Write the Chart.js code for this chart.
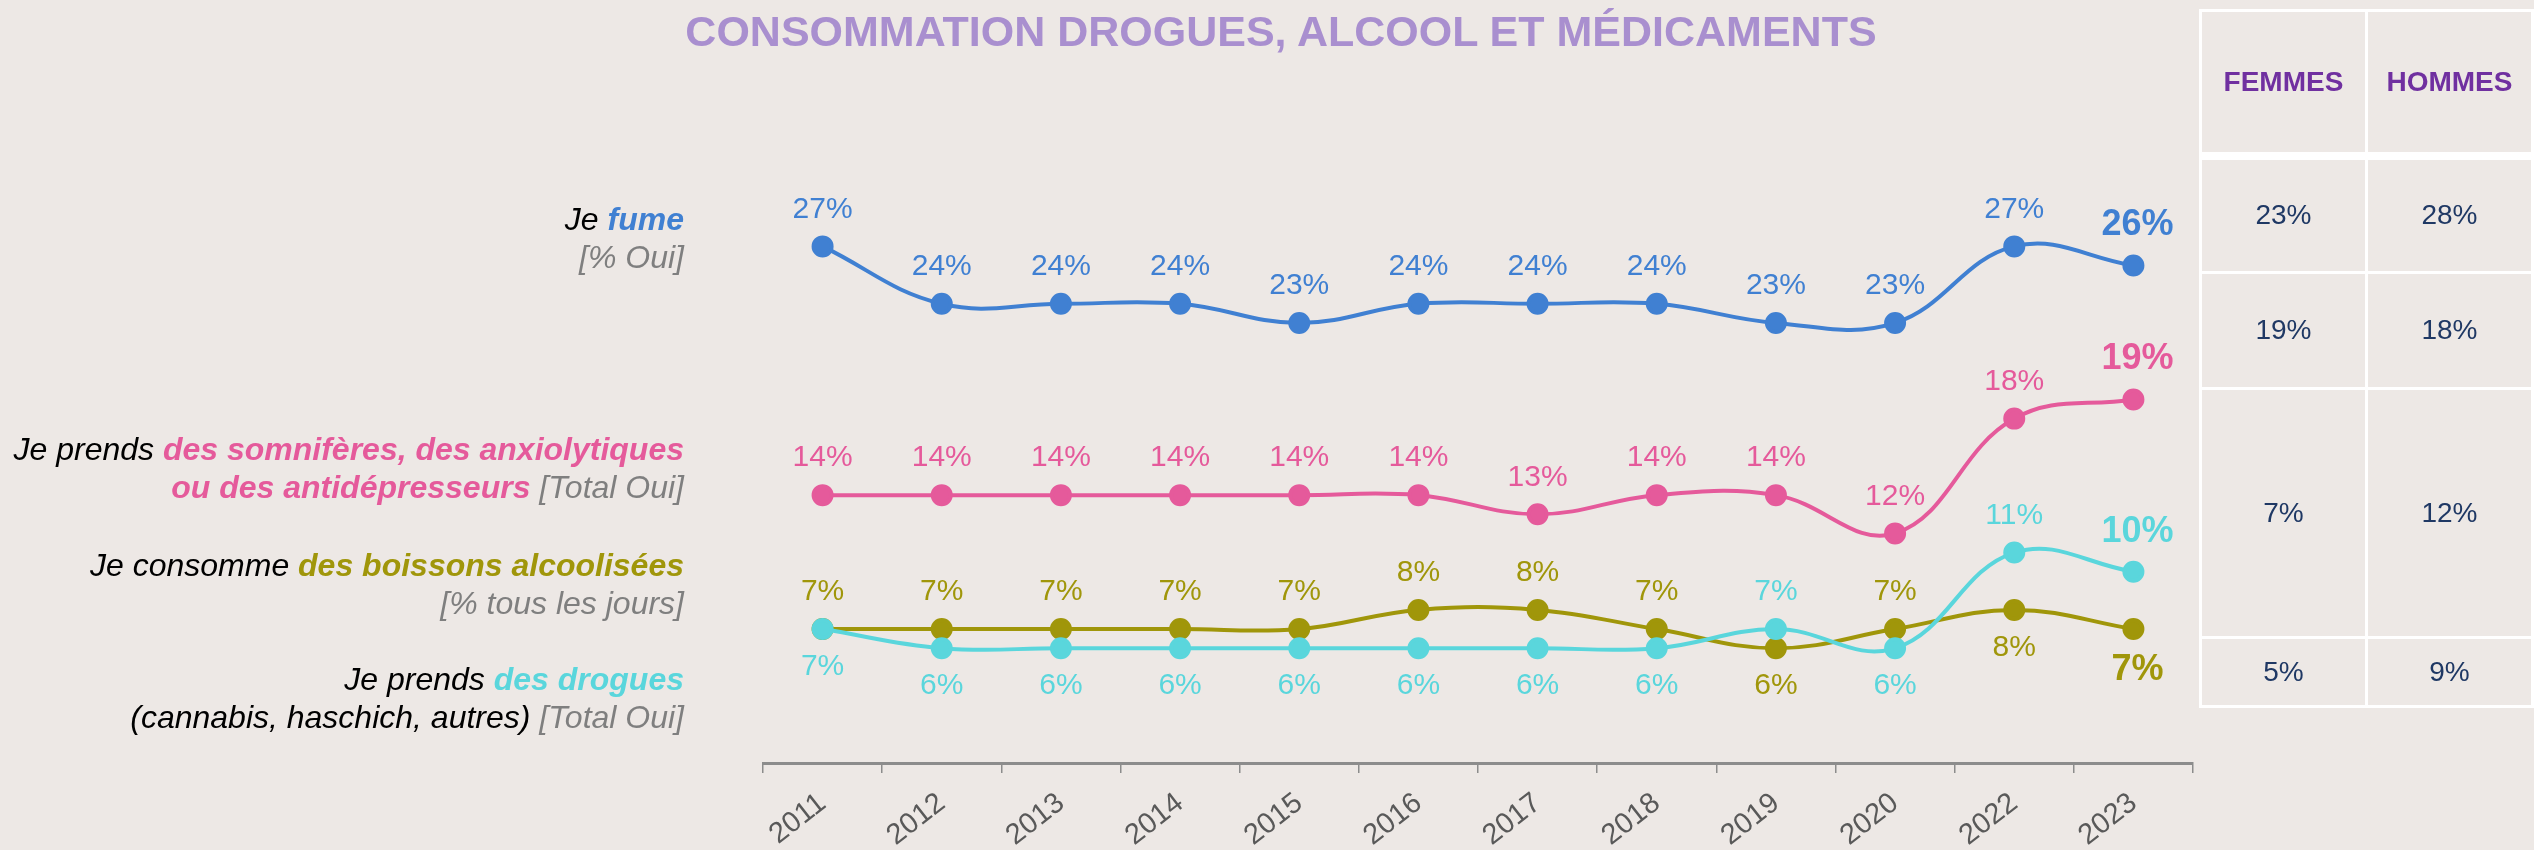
<!DOCTYPE html>
<html lang="fr">
<head>
<meta charset="utf-8">
<script src="https://cdn.jsdelivr.net/npm/chart.js@4.4.1/dist/chart.umd.min.js"></script>
<style>
  html, body { margin: 0; padding: 0; background: #ede8e5; }
  body { width: 2534px; height: 850px; position: relative; overflow: hidden; font-family: 'Liberation Sans', Arial, sans-serif; }
  #c { position: absolute; left: 0; top: 0; }
  .title { position: absolute; left: 0; width: 2562px; top: 7px; text-align: center; font-size: 43px; font-weight: bold; color: #a98fcf; }
  .lbl { position: absolute; right: 1850px; text-align: right; font-size: 32px; font-style: italic; line-height: 38px; white-space: nowrap; color: #000; }
  .lbl b { font-weight: bold; }
  .g { color: #7f7f7f; }
  table { position: absolute; left: 2199px; top: 9px; border-collapse: collapse; }
  td { border: 3px solid #fff; width: 164px; text-align: center; font-size: 28px; color: #1f3864; padding: 0; }
  th { border: 3px solid #fff; border-bottom: 8px solid #fff; height: 140px; font-size: 28px; color: #7030a0; padding: 0; }
</style>
</head>
<body>
<canvas id="c" width="2534" height="850"></canvas>
<div class="title">CONSOMMATION DROGUES, ALCOOL ET MÉDICAMENTS</div>

<div class="lbl" style="top:200px">Je <b style="color:#4080d2">fume</b><br><span class="g">[% Oui]</span></div>
<div class="lbl" style="top:430px">Je prends <b style="color:#e55a9b">des somnifères, des anxiolytiques</b><br><b style="color:#e55a9b">ou des antidépresseurs</b> <span class="g">[Total Oui]</span></div>
<div class="lbl" style="top:546px">Je consomme <b style="color:#a0960a">des boissons alcoolisées</b><br><span class="g">[% tous les jours]</span></div>
<div class="lbl" style="top:660px">Je prends <b style="color:#5ad6dc">des drogues</b><br>(cannabis, haschich, autres) <span class="g">[Total Oui]</span></div>

<table id="tab"></table>

<script>
const years = ['2011', '2012', '2013', '2014', '2015', '2016', '2017', '2018', '2019', '2020', '2022', '2023'];
const fume = [27, 24, 24, 24, 23, 24, 24, 24, 23, 23, 27, 26];
const somniferes = [14, 14, 14, 14, 14, 14, 13, 14, 14, 12, 18, 19];
const alcool = [7, 7, 7, 7, 7, 8, 8, 7, 6, 7, 8, 7];
const drogues = [7, 6, 6, 6, 6, 6, 6, 6, 7, 6, 11, 10];

// tableau femmes / hommes (2023)
const sexes = ['FEMMES', 'HOMMES'];
const femmes = [23, 19, 7, 5];
const hommes = [28, 18, 12, 9];
const rowHeights = [116, 116, 249, 69];

// where each value label goes: above or below its point
const upAll = years.map(() => 'up');
const alcoolSide = ['up', 'up', 'up', 'up', 'up', 'up', 'up', 'up', 'down', 'up', 'down', 'down'];
const droguesSide = ['down', 'down', 'down', 'down', 'down', 'down', 'down', 'down', 'up', 'down', 'up', 'up'];

const FONT = "'Liberation Sans', Arial, sans-serif";

let html = '<tr>' + sexes.map(s => '<th>' + s + '</th>').join('') + '</tr>';
femmes.forEach((f, i) => {
  html += '<tr style="height:' + rowHeights[i] + 'px"><td>' + f + '%</td><td>' + hommes[i] + '%</td></tr>';
});
document.getElementById('tab').innerHTML = html;

const valueLabels = {
  id: 'valueLabels',
  afterDatasetsDraw(chart) {
    const ctx = chart.ctx;
    chart.data.datasets.forEach((ds, di) => {
      const meta = chart.getDatasetMeta(di);
      meta.data.forEach((pt, i) => {
        const last = i === ds.data.length - 1;
        const up = ds.sides[i] === 'up';
        const off = last ? 40 : 37;
        ctx.save();
        ctx.font = (last ? 'bold 36px ' : '30px ') + FONT;
        ctx.fillStyle = ds.borderColor;
        ctx.textAlign = 'center';
        ctx.textBaseline = 'middle';
        ctx.fillText(ds.data[i] + '%', pt.x + (last ? 4 : 0), pt.y + (up ? -off : off + 1));
        ctx.restore();
      });
    });
  }
};

function line(data, color, sides) {
  return {
    data, sides,
    borderColor: color, backgroundColor: color,
    pointBackgroundColor: color, pointBorderColor: color,
    borderWidth: 4, pointRadius: 9, pointHoverRadius: 9,
    tension: 0.4, fill: false, clip: false
  };
}

new Chart(document.getElementById('c').getContext('2d'), {
  type: 'line',
  data: {
    labels: years,
    datasets: [
      line(fume, '#4080d2', upAll),
      line(somniferes, '#e55a9b', upAll),
      line(drogues, '#5ad6dc', droguesSide),
      line(alcool, '#a0960a', alcoolSide)
    ]
  },
  options: {
    responsive: false, animation: false, devicePixelRatio: 1,
    layout: { padding: { left: 763, right: 341, top: 189, bottom: 0 } },
    plugins: { legend: { display: false }, tooltip: { enabled: false } },
    scales: {
      x: {
        offset: true,
        afterFit: s => { s.height = 87; },
        border: { display: true, color: '#8c8c8c', width: 3 },
        grid: { offset: true, drawOnChartArea: false, drawTicks: true, tickLength: 10, color: '#8c8c8c', lineWidth: 1.5 },
        ticks: { color: '#595959', font: { family: FONT, size: 29 }, minRotation: 38, maxRotation: 38, padding: 13 }
      },
      y: { display: false, min: 0, max: 30 }
    }
  },
  plugins: [valueLabels]
});
</script>
</body>
</html>
